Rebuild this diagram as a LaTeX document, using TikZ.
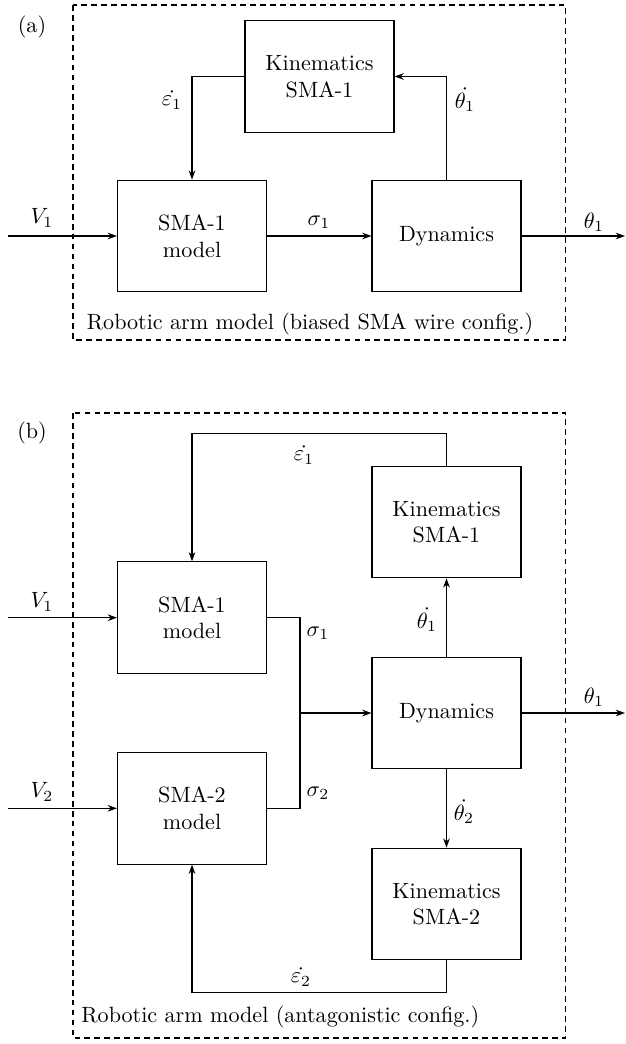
\documentclass[tikz,border=0pt]{standalone}
\usetikzlibrary{arrows.meta}
\begin{document}
\begin{tikzpicture}[x=0.4525pt,y=-0.4525pt,
  blk/.style={draw,line width=0.5pt,minimum width=67.4pt,minimum height=50.5pt,inner sep=0pt,align=center},
  conn/.style={line width=0.5pt},
  arr/.style={line width=0.5pt,-{Stealth[length=4.2pt,width=3pt]}},
  frame/.style={line width=0.5pt,dash pattern=on 2.6pt off 1.9pt},
  lbl/.style={inner sep=0pt}]
\useasboundingbox (0,0) rectangle (625,1044);
% ---------- panel (a) ----------
\draw[frame] (73,5) rectangle (565.5,340);
\node[lbl] (la) at (32,27) {(a)};
\node[lbl,anchor=base west] (capa) at (86.5,330) {Robotic arm model (biased SMA wire config.)};
\node[blk] (kinA) at (319.5,76.5) {Kinematics\\SMA-1};
\node[blk] (smaA) at (192,236) {SMA-1\\model};
\node[blk] (dynA) at (446.5,236) {Dynamics};
\coordinate (inA) at (8,236);
\coordinate (outA) at (625,236);
\draw[arr] (inA) -- (smaA.west);
\draw[arr] (smaA.east) -- (dynA.west);
\draw[arr] (dynA.east) -- (outA);
\draw[arr] (kinA.west) -| (smaA.north);
\draw[arr] (dynA.north) |- (kinA.east);
\node[lbl] (vA) at (42,218) {$V_1$};
\node[lbl] (eA) at (172,100) {$\dot{\varepsilon_1}$};
\node[lbl] (tdA) at (465,100) {$\dot{\theta_1}$};
\node[lbl] (sA) at (319,222) {$\sigma_1$};
\node[lbl] (tA) at (594,222) {$\theta_1$};
% ---------- panel (b) ----------
\draw[frame] (73,413) rectangle (565.5,1038);
\node[lbl] (lb) at (32,433) {(b)};
\node[lbl,anchor=base west] (capb) at (81,1022) {Robotic arm model (antagonistic config.)};
\node[blk] (kin1B) at (446.5,522) {Kinematics\\SMA-1};
\node[blk] (sma1B) at (192,617.7) {SMA-1\\model};
\node[blk] (dynB) at (446.5,713) {Dynamics};
\node[blk] (sma2B) at (192,808.3) {SMA-2\\model};
\node[blk] (kin2B) at (446.5,904) {Kinematics\\SMA-2};
\coordinate (topB) at (0,433.7);
\coordinate (botB) at (0,992.3);
\coordinate (J) at (300,713);
\coordinate (in1B) at (8,617.7);
\coordinate (in2B) at (8,808.3);
\coordinate (outB) at (625,713);
\draw[arr] (in1B) -- (sma1B.west);
\draw[arr] (in2B) -- (sma2B.west);
\draw[conn] (sma1B.east) -| (J);
\draw[conn] (sma2B.east) -| (J);
\draw[arr] (J) -- (dynB.west);
\draw[arr] (dynB.east) -- (outB);
\draw[arr] (dynB.north) -- (kin1B.south);
\draw[arr] (dynB.south) -- (kin2B.north);
\draw[arr] (kin1B.north) -- (kin1B.north |- topB) -| (sma1B.north);
\draw[arr] (kin2B.south) -- (kin2B.south |- botB) -| (sma2B.south);
\node[lbl] (eB1) at (304,455) {$\dot{\varepsilon_1}$};
\node[lbl] (vB1) at (42,602) {$V_1$};
\node[lbl] (sB1) at (318,633) {$\sigma_1$};
\node[lbl] (tdB1) at (427,620) {$\dot{\theta_1}$};
\node[lbl] (tB) at (594,697) {$\theta_1$};
\node[lbl] (vB2) at (42,792) {$V_2$};
\node[lbl] (sB2) at (318,793) {$\sigma_2$};
\node[lbl] (tdB2) at (464,812) {$\dot{\theta_2}$};
\node[lbl] (eB2) at (301,977) {$\dot{\varepsilon_2}$};
\end{tikzpicture}
\end{document}
